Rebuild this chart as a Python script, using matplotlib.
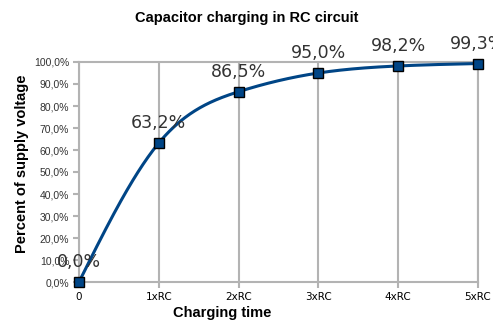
import matplotlib
matplotlib.use("Agg")
import matplotlib.pyplot as plt
from matplotlib.ticker import FuncFormatter
import numpy as np

# data
x_vals = [0, 1, 2, 3, 4, 5]
x_labels = ["0", "1xRC", "2xRC", "3xRC", "4xRC", "5xRC"]
percent = [0.0, 63.2, 86.5, 95.0, 98.2, 99.3]
point_labels = ["0,0%", "63,2%", "86,5%", "95,0%", "98,2%", "99,3%"]

blue = "#004586"
grey = "#b3b3b3"
text_col = "#333333"


def natural_spline(xs, ys, n=400):
    # natural cubic spline, only used to draw the smooth line
    xs = np.asarray(xs, float)
    ys = np.asarray(ys, float)
    k = len(xs)
    h = np.diff(xs)
    A = np.zeros((k, k))
    b = np.zeros(k)
    A[0, 0] = 1
    A[-1, -1] = 1
    for i in range(1, k - 1):
        A[i, i - 1] = h[i - 1]
        A[i, i] = 2 * (h[i - 1] + h[i])
        A[i, i + 1] = h[i]
        b[i] = 6 * ((ys[i + 1] - ys[i]) / h[i] - (ys[i] - ys[i - 1]) / h[i - 1])
    m = np.linalg.solve(A, b)
    xx = np.linspace(xs[0], xs[-1], n)
    idx = np.clip(np.searchsorted(xs, xx) - 1, 0, k - 2)
    x0, x1 = xs[idx], xs[idx + 1]
    y0, y1 = ys[idx], ys[idx + 1]
    m0, m1 = m[idx], m[idx + 1]
    hh = x1 - x0
    t0 = x1 - xx
    t1 = xx - x0
    yy = (m0 * t0 ** 3 + m1 * t1 ** 3) / (6 * hh) + (y0 / hh - m0 * hh / 6) * t0 + (y1 / hh - m1 * hh / 6) * t1
    return xx, yy


fig = plt.figure(figsize=(4.93, 3.28), dpi=100)
ax = fig.add_axes([79 / 493, 1 - 282 / 328, 399 / 493, 220 / 328])

xx, yy = natural_spline(x_vals, percent)
ax.plot(xx, yy, color=blue, lw=2.2, zorder=3, clip_on=False)
ax.plot(x_vals, percent, ls="none", marker="s", ms=7, mfc=blue, mec="black",
        mew=1.0, zorder=4, clip_on=False)

for x, y, lab in zip(x_vals, percent, point_labels):
    ax.annotate(lab, (x, y), xytext=(0, 20), textcoords="offset pixels",
                ha="center", va="center", fontsize=12.5, color=text_col,
                family="DejaVu Sans", annotation_clip=False, zorder=5)

ax.set_xlim(0, 5)
ax.set_ylim(0, 100)
ax.set_xticks(x_vals)
ax.set_xticklabels(x_labels, family="DejaVu Sans", fontsize=7.5, color="black")
ax.set_yticks(np.arange(0, 101, 10))
ax.yaxis.set_major_formatter(FuncFormatter(lambda v, p: ("%.1f%%" % v).replace(".", ",")))
for t in ax.get_yticklabels():
    t.set_family("Liberation Sans")
    t.set_fontsize(7.5)
    t.set_color(text_col)

ax.grid(True, axis="x", color=grey, lw=1.5)
ax.tick_params(axis="both", direction="out", length=4, width=1.5, color=grey, pad=3)
for s in ax.spines.values():
    s.set_color(grey)
    s.set_linewidth(1.5)
ax.set_axisbelow(True)

fig.text(247 / 493, 1 - 18 / 328, "Capacitor charging in RC circuit", ha="center", va="center",
         family="Liberation Sans", fontweight="bold", fontsize=10.5)
fig.text(222 / 493, 1 - 313 / 328, "Charging time", ha="center", va="center",
         family="Liberation Sans", fontweight="bold", fontsize=10.5)
fig.text(22 / 493, 1 - 164 / 328, "Percent of supply voltage", ha="center", va="center",
         rotation=90, family="Liberation Sans", fontweight="bold", fontsize=10.5)

fig.savefig("out.png", dpi=100)
